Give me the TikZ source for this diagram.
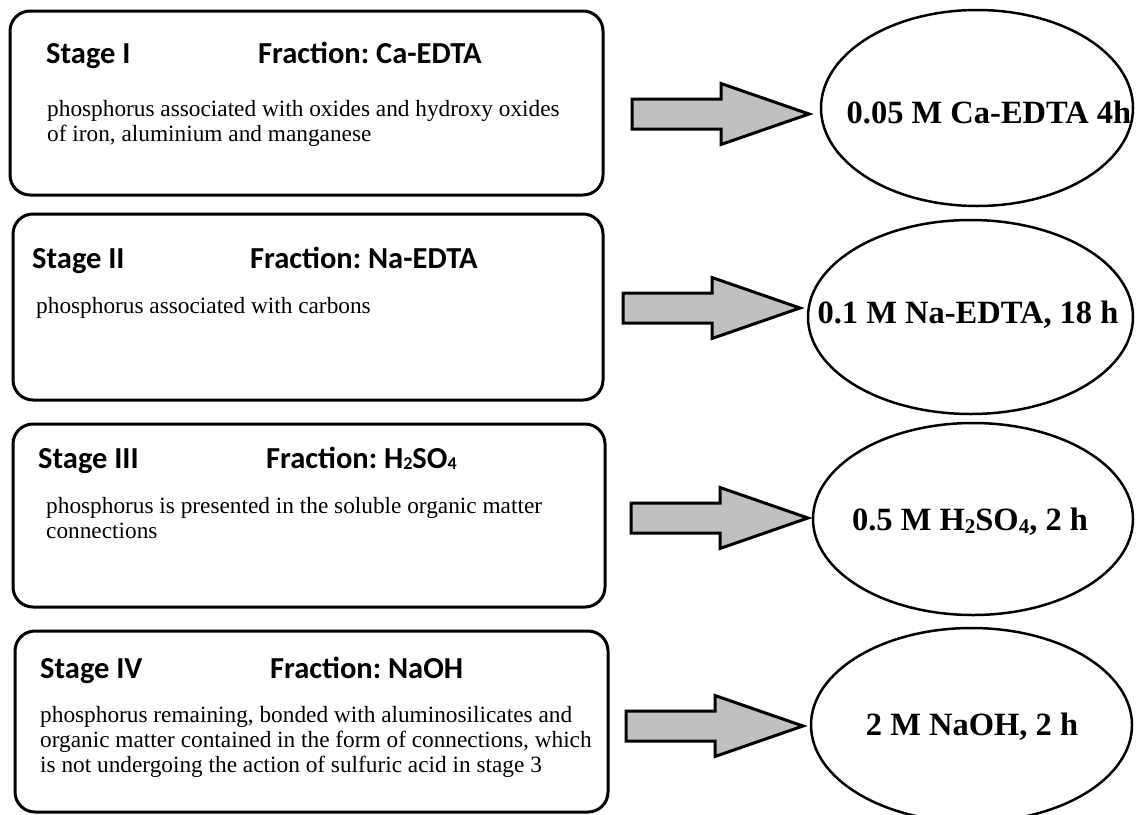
\documentclass[tikz,border=0pt]{standalone}
\usepackage{fontspec}
\setmainfont{Liberation Serif}
\newfontfamily\hdrfont{Carlito}
\usetikzlibrary{shapes.geometric}
\definecolor{arrowgray}{HTML}{C0C0C0}
\newcommand{\hsub}[1]{\raisebox{-1pt}{\fontsize{18}{18}\selectfont #1}}
\newcommand{\esub}[1]{\raisebox{-3pt}{\fontsize{21}{21}\selectfont #1}}
\begin{document}
\frenchspacing
\begin{tikzpicture}[x=1pt,y=-1pt,
  stagebox/.style={draw, line width=3pt, rounded corners=20pt, inner sep=0pt},
  hdr/.style={anchor=base west, inner sep=0pt, font=\hdrfont\bfseries\fontsize{30.5}{32}\selectfont},
  body/.style={anchor=north west, inner sep=0pt, align=left, font=\fontsize{23.3}{25}\selectfont},
  cond/.style={draw, ellipse, line width=2.5pt, inner sep=0pt},
  condtext/.style={anchor=base, inner sep=0pt, font=\bfseries\fontsize{32.5}{34}\selectfont},
  blockarrow/.pic={\draw[line width=3pt, fill=arrowgray, line join=miter]
     (-177,-15)--(-88,-15)--(-88,-30.5)--(0,0)--(-88,30.5)--(-88,15)--(-177,15)--cycle;}
]
\useasboundingbox (0,0) rectangle (1137,814);

% stage boxes
\node[stagebox, minimum width=593pt, minimum height=184pt] (box1) at (306.5,103) {};
\node[stagebox, minimum width=590pt, minimum height=186pt] (box2) at (308,307) {};
\node[stagebox, minimum width=592pt, minimum height=183pt] (box3) at (309,515.5) {};
\node[stagebox, minimum width=593pt, minimum height=181pt] (box4) at (311.5,721.5) {};

% headers
\node[hdr] (s1) at (46,63) {Stage I};
\node[hdr] (f1) at (258,63) {Fraction: Ca-EDTA};
\node[hdr] (s2) at (32,268) {Stage II};
\node[hdr] (f2) at (250,268) {Fraction: Na-EDTA};
\node[hdr] (s3) at (38,468) {Stage III};
\node[hdr] (f3) at (266,468) {Fraction: H\hsub{2}SO\hsub{4}};
\node[hdr] (s4) at (40,678) {Stage IV};
\node[hdr] (f4) at (270,678) {Fraction: NaOH};

% body texts
\node[body] (t1) at (47,100) {phosphorus associated with oxides and hydroxy oxides\\of iron, aluminium and manganese};
\node[body] (t2) at (36,297.5) {phosphorus associated with carbons};
\node[body] (t3) at (46,497.5) {phosphorus is presented in the soluble organic matter\\connections};
\node[body] (t4) at (40,706.5) {phosphorus remaining, bonded with aluminosilicates and\\organic matter contained in the form of connections, which\\is not undergoing the action of sulfuric acid in stage 3};

% conditions
\node[cond, minimum width=312pt, minimum height=196pt] (c1) at (977,108) {};
\node[cond, minimum width=325pt, minimum height=194pt] (c2) at (970.5,317) {};
\node[cond, minimum width=320pt, minimum height=192pt] (c3) at (973,519) {};
\node[cond, minimum width=321pt, minimum height=194pt] (c4) at (971.5,725) {};
\node[condtext] (c1t) at (989,123) {0.05 M Ca-EDTA 4h};
\node[condtext] (c2t) at (968,323) {0.1 M Na-EDTA, 18 h};
\node[condtext] (c3t) at (970,530) {0.5 M H\esub{2}SO\esub{4}, 2 h};
\node[condtext] (c4t) at (972,735) {2 M NaOH, 2 h};

% block arrows
\pic at (809,114) {blockarrow};
\pic at (800,308) {blockarrow};
\pic at (808,518) {blockarrow};
\pic at (803,726) {blockarrow};
\end{tikzpicture}
\end{document}
